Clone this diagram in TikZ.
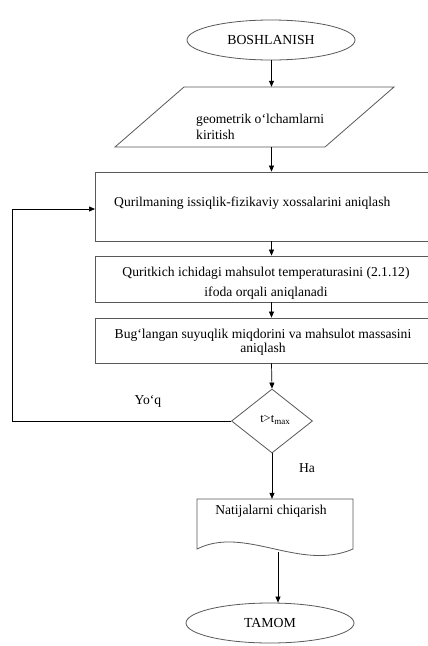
\documentclass[tikz,border=0pt]{standalone}
\usepackage{fontspec}
\setmainfont{Liberation Serif}
\usetikzlibrary{shapes.geometric,arrows.meta,calc}
\begin{document}
\begin{tikzpicture}[x=1pt,y=-1pt,
  shapeline/.style={draw=black!65, line width=0.8pt},
  conn/.style={draw=black, line width=0.7pt, -{Triangle[length=6pt,width=5pt]}},
  txt/.style={font=\fontsize{13.6}{15.5}\selectfont, inner sep=0pt},
  term/.style={shapeline, ellipse, minimum width=168pt, minimum height=40pt, inner sep=0pt, font=\fontsize{13.8}{15.5}\selectfont},
  procbox/.style={shapeline, rectangle, minimum width=345pt, inner sep=0pt},
  decis/.style={shapeline, diamond, minimum width=81pt, minimum height=64pt, inner sep=0pt}
]
\useasboundingbox (0,0) rectangle (428,646);
\clip (0,0) rectangle (428,646);
\fill[white] (0,0) rectangle (428,646);

% terminals
\node[term] (start) at (271,40) {BOSHLANISH};
\node[term] (stop) at (270,623) {TAMOM};

% input parallelogram
\node[minimum width=279pt, minimum height=60pt, inner sep=0pt] (par) at (254.5,117) {};
\draw[shapeline] (184,87) -- (394,87) -- (325,147) -- (115,147) -- cycle;
\node[txt, anchor=west, align=left] (partxt) at (196,127) {geometrik o‘lchamlarni\\kiritish};

% process boxes
\node[procbox, minimum height=69pt] (b1) at (267.5,206.5) {};
\node[txt, anchor=west] (b1txt) at (114,203) {Qurilmaning issiqlik-fizikaviy xossalarini aniqlash};
\node[procbox, minimum height=46pt] (b2) at (267.5,279) {};
\node[txt, align=center, font=\fontsize{13.6}{20}\selectfont] (b2txt) at (266,283) {Quritkich ichidagi mahsulot temperaturasini (2.1.12)\\ifoda orqali aniqlanadi};
\node[procbox, minimum height=45pt] (b3) at (267.5,340.5) {};
\node[txt, align=center, font=\fontsize{13.6}{14.5}\selectfont] (b3txt) at (263,342) {Bug‘langan suyuqlik miqdorini va mahsulot massasini\\aniqlash};

% decision
\node[decis] (dec) at (272,421) {};
\node[inner sep=0pt, font=\fontsize{12.5}{13}\selectfont] (dectxt) at (275,420) {t>t\raisebox{-2pt}{\fontsize{9}{10}\selectfont max}};

% output document
\node[minimum width=156pt, minimum height=50pt, inner sep=0pt] (doc) at (275,524) {};
\draw[shapeline] (197,499) -- (353,499) -- (353,549)
  .. controls (300,572) and (245,525) .. (197,549) -- cycle;
\node[txt] (doctxt) at (271,511) {Natijalarni chiqarish};

% labels
\node[txt] (yoq) at (148,401) {Yo‘q};
\node[txt] (ha) at (307,468) {Ha};

% helper coordinates
\coordinate (col) at (271.5,0);
\coordinate (fbl) at (12,0);
\coordinate (fbin) at (95,209);
\coordinate (docout) at (278,552);

% connectors
\draw[conn] (start.south -| col) -- (par.north -| col);
\draw[conn] (par.south -| col) -- (b1.north -| col);
\draw[conn] (b1.south -| col) -- (b2.north -| col);
\draw[conn] (b2.south -| col) -- (b3.north -| col);
\draw[conn] (b3.south -| col) -- (dec.north);
\draw[conn] (dec.south) -- (doc.north -| dec.south);
\draw[conn] (docout) -- (stop.north -| docout);
\draw[conn] (dec.west) -- (dec.west -| fbl) |- (fbin);
\end{tikzpicture}
\end{document}
